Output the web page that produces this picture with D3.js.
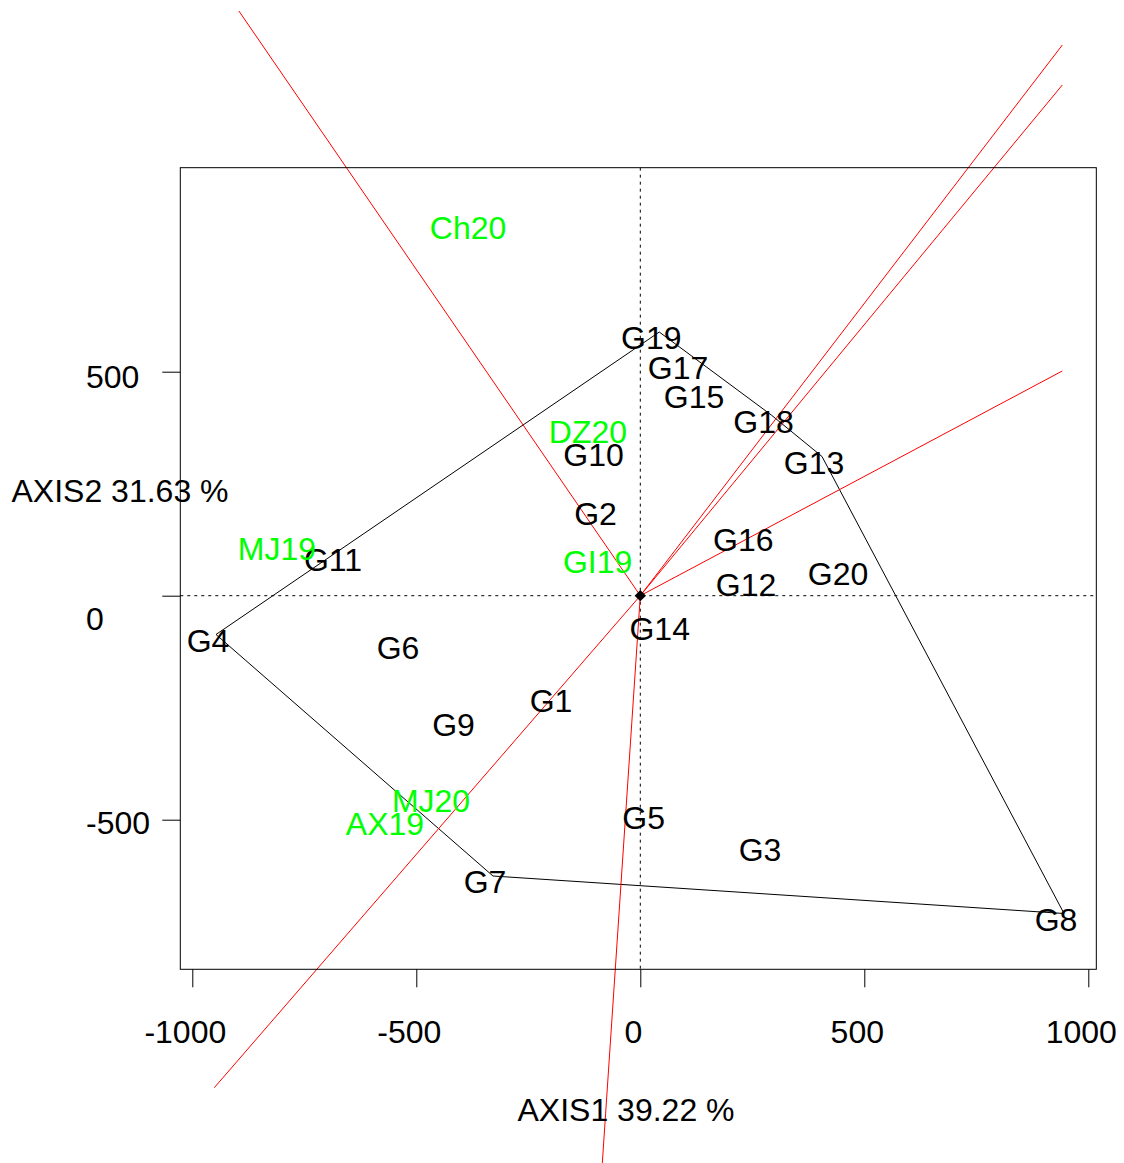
<!DOCTYPE html>
<html>
<head>
<meta charset="utf-8">
<script src="https://cdn.jsdelivr.net/npm/d3@7"></script>
<style>
  body { margin: 0; background: #fff; }
  svg { display: block; }
  text { font-family: "Liberation Sans", Arial, sans-serif; }
</style>
</head>
<body>
<div id="container"></div>
<script>
const width = 1124, height = 1163;

// Genotype scores (AXIS1, AXIS2)
const genotypes = ["G1", "G2", "G3", "G4", "G5", "G6", "G7", "G8", "G9", "G10",
                   "G11", "G12", "G13", "G14", "G15", "G16", "G17", "G18", "G19", "G20"];
const genoX = [-181.5, -82.1, 285.0, -947.1, 25.4, -523.0, -328.8, 945.8, -399.1, -86.6,
               -668.1, 253.8, 405.6, 61.2, 137.7, 247.8, 102.0, 292.9, 42.4, 459.2];
const genoY = [-220.5, 196.9, -553.1, -86.6, -481.7, -102.2, -625.7, -709.4, -274.1, 327.5,
               94.2, 38.4, 310.7, -60.9, 458.0, 137.7, 522.8, 402.9, 588.6, 62.9];

// Environment scores
const environments = ["AX19", "Ch20", "DZ20", "GI19", "MJ19", "MJ20"];
const envX = [-552.0, -366.7, -98.9, -77.5, -793.1, -449.3];
const envY = [-496.2, 835.3, 379.9, 90.4, 118.8, -444.9];

// Polygon vertices (which-won-where hull)
const hull = ["G19", "G18", "G13", "G8", "G7", "G4"];

// Sector rays drawn from the origin, end points
const rayX = [-896.0, 942.0, 942.0, 942.0, -950.9, -94.9];
const rayY = [1305.1, 1229.2, 1140.0, 501.6, -1098.2, -1417.0];

// Axes
const xTicks = [-1000, -500, 0, 500, 1000];
const yTicks = [-500, 0, 500];
const usrX = [-1026.8, 1017.9];
const usrY = [-833.9, 955.4];
const xTitle = "AXIS1 39.22 %";
const yTitle = "AXIS2 31.63 %";

const fs = 32;
const labelDx = -8, labelDy = 6.5;   // R text sits slightly left/below its anchor

const svg = d3.select("#container")
  .append("svg")
  .attr("width", width)
  .attr("height", height);

svg.append("rect").attr("width", width).attr("height", height).attr("fill", "#fff");

const x = d3.scaleLinear().domain([-1000, 1000]).range([192.3, 1088.3]);
const y = d3.scaleLinear().domain([-500, 500]).range([819.7, 371.7]);

const boxL = x(usrX[0]), boxR = x(usrX[1]);
const boxT = y(usrY[1]), boxB = y(usrY[0]);

// dotted reference lines through the origin
svg.append("line")
  .attr("x1", x(0)).attr("x2", x(0))
  .attr("y1", boxT).attr("y2", boxB)
  .attr("stroke", "#000").attr("stroke-width", 1)
  .attr("stroke-dasharray", "3,4");
svg.append("line")
  .attr("x1", boxL).attr("x2", boxR)
  .attr("y1", y(0)).attr("y2", y(0))
  .attr("stroke", "#000").attr("stroke-width", 1)
  .attr("stroke-dasharray", "3,4");

// hull polygon
const gIndex = name => genotypes.indexOf(name);
svg.append("path")
  .datum(hull.map(n => [genoX[gIndex(n)], genoY[gIndex(n)]]))
  .attr("d", d => d3.line().x(p => x(p[0])).y(p => y(p[1]))(d) + "Z")
  .attr("fill", "none")
  .attr("stroke", "#000")
  .attr("stroke-width", 1);

// rays perpendicular to hull sides
svg.selectAll(".ray")
  .data(rayX.map((v, i) => [v, rayY[i]]))
  .join("line")
  .attr("class", "ray")
  .attr("x1", x(0)).attr("y1", y(0))
  .attr("x2", d => x(d[0])).attr("y2", d => y(d[1]))
  .attr("stroke", "#ff0000")
  .attr("stroke-width", 1);

// genotype labels
svg.selectAll(".geno")
  .data(genotypes)
  .join("text")
  .attr("class", "geno")
  .attr("x", (d, i) => x(genoX[i]) + labelDx)
  .attr("y", (d, i) => y(genoY[i]) + labelDy)
  .attr("dy", "0.34em")
  .attr("text-anchor", "middle")
  .attr("fill", "#000")
  .style("font-size", fs + "px")
  .text(d => d);

// environment labels
svg.selectAll(".env")
  .data(environments)
  .join("text")
  .attr("class", "env")
  .attr("x", (d, i) => x(envX[i]) + labelDx)
  .attr("y", (d, i) => y(envY[i]) + labelDy)
  .attr("dy", "0.34em")
  .attr("text-anchor", "middle")
  .attr("fill", "#00ff00")
  .style("font-size", fs + "px")
  .text(d => d);

// origin marker
svg.append("path")
  .attr("d", d3.symbol(d3.symbolSquare, 64)())
  .attr("transform", `translate(${x(0)},${y(0)}) rotate(45)`)
  .attr("fill", "#000");

// box
svg.append("rect")
  .attr("x", boxL).attr("y", boxT)
  .attr("width", boxR - boxL).attr("height", boxB - boxT)
  .attr("fill", "none")
  .attr("stroke", "#000")
  .attr("stroke-width", 1);

// x axis
const xAxis = svg.append("g")
  .attr("transform", `translate(0,${boxB})`)
  .call(d3.axisBottom(x).tickValues(xTicks).tickSize(18).tickSizeOuter(0).tickFormat(d => String(d)));
xAxis.select(".domain").remove();
xAxis.selectAll("line").attr("stroke", "#000");
xAxis.selectAll("text")
  .attr("x", -7.5).attr("y", 74).attr("dy", null)
  .attr("fill", "#000")
  .style("font-size", fs + "px")
  .style("font-family", "'Liberation Sans', Arial, sans-serif");

// y axis
const yNudge = { "500": 16, "0": 33.6, "-500": 14 };
const yAxis = svg.append("g")
  .attr("transform", `translate(${boxL},0)`)
  .call(d3.axisLeft(y).tickValues(yTicks).tickSize(18).tickSizeOuter(0).tickFormat(d => String(d)));
yAxis.select(".domain").remove();
yAxis.selectAll("line").attr("stroke", "#000");
yAxis.selectAll("text")
  .attr("x", 86 - boxL).attr("y", d => yNudge[d]).attr("dy", null)
  .attr("text-anchor", "start")
  .attr("fill", "#000")
  .style("font-size", fs + "px")
  .style("font-family", "'Liberation Sans', Arial, sans-serif");

// axis titles
svg.append("text")
  .attr("x", 626).attr("y", 1121)
  .attr("text-anchor", "middle")
  .attr("fill", "#000")
  .style("font-size", fs + "px")
  .text(xTitle);

svg.append("text")
  .attr("x", 120).attr("y", 501.5)
  .attr("text-anchor", "middle")
  .attr("fill", "#000")
  .style("font-size", fs + "px")
  .text(yTitle);
</script>
</body>
</html>
